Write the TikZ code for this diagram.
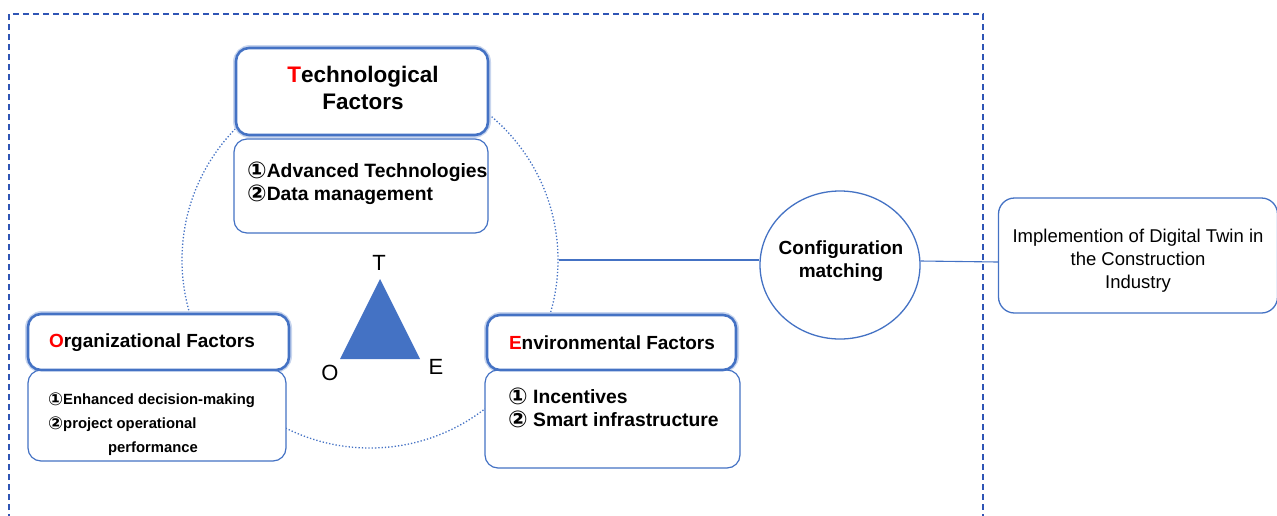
\documentclass[tikz,border=0pt]{standalone}
\usepackage{fontspec}
\setmainfont{Liberation Sans}
\newfontfamily\circfont{DejaVu Sans}
\usetikzlibrary{shapes.geometric}
\definecolor{ubl}{HTML}{4472C4}
\definecolor{frameblue}{HTML}{2F55B5}
\definecolor{halo}{HTML}{C9D6EE}
\newcommand{\cnum}[1]{\raisebox{-0.09em}{\scalebox{1.2}{\circfont #1}}}
\tikzset{
  headbox/.style={draw=ubl, line width=2.6pt, rounded corners=13pt, fill=white,
    inner sep=0pt},
  halobox/.style={draw=halo, line width=6pt, rounded corners=14pt},
  bodybox/.style={draw=ubl, line width=1.2pt, rounded corners=13pt, fill=white,
    inner sep=0pt},
  titletext/.style={align=center, inner sep=0pt, font=\bfseries},
  itemtext/.style={align=left, anchor=north west, inner sep=0pt, font=\bfseries},
  vertex/.style={font=\fontsize{22}{22}\selectfont, inner sep=0pt},
  link/.style={draw=ubl, line width=1.1pt},
}
\begin{document}
\begin{tikzpicture}[x=1pt,y=-1pt]
\useasboundingbox (0,0) rectangle (1277,515);

% outer dashed frame, open at the bottom
\draw[frameblue, line width=1.1pt, dash pattern=on 6pt off 4pt]
  (9,520) -- (9,14) -- (983,14) -- (983,520);

% dotted TOE ring behind the factor boxes
\node[circle, draw=ubl, line width=1.3pt, dotted, minimum size=376pt, inner sep=0pt]
  (toe) at (370,260) {};

% Configuration matching and outcome
\node[ellipse, draw=ubl, line width=1.3pt, fill=white, minimum width=160pt,
  minimum height=148pt, inner sep=0pt] (cfg) at (840,265) {};
\node[titletext, font=\bfseries\fontsize{19}{23}\selectfont] (cfgT) at (841,261)
  {Configuration\\matching};
\node[draw=ubl, line width=1.3pt, rounded corners=16pt, minimum width=279pt,
  minimum height=115pt, inner sep=0pt] (impl) at (1138,255.5) {};
\node[align=center, inner sep=0pt, font=\fontsize{18.5}{23}\selectfont]
  (implT) at (1138,261)
  {Implemention of Digital Twin in\\the Construction\\Industry};
\draw[link] (toe.east) -- (toe.east -| cfg.west);
\draw[link] (cfg.east |- 0,261) -- (impl.west |- 0,262);

% Technological factors
\draw[halobox] (236,48) rectangle (488,135);
\node[bodybox, minimum width=254pt, minimum height=94pt] (techB) at (361,186) {};
\node[headbox, minimum width=252pt, minimum height=87pt] (techH) at (362,91.5) {};
\node[titletext, font=\bfseries\fontsize{22.5}{27}\selectfont] (techT) at (363,88)
  {\textcolor{red}{T}echnological\\Factors};
\node[itemtext, font=\bfseries\fontsize{19.3}{23}\selectfont] (techI) at (247,162)
  {\cnum{①}Advanced Technologies\\\cnum{②}Data management};

% Organizational factors
\draw[halobox] (28,314) rectangle (289,370);
\node[bodybox, minimum width=258pt, minimum height=91pt] (orgB) at (157,415.5) {};
\node[headbox, minimum width=261pt, minimum height=56pt] (orgH) at (158.5,342) {};
\node[titletext, font=\bfseries\fontsize{19}{22}\selectfont] (orgT) at (152,343)
  {\textcolor{red}{O}rganizational Factors};
\node[itemtext, font=\bfseries\fontsize{14.8}{24}\selectfont] (orgI) at (48,392.5)
  {\cnum{①}Enhanced decision-making\\\cnum{②}project operational\\\hspace*{60pt}performance};

% Environmental factors
\draw[halobox] (487,315) rectangle (736,370);
\node[bodybox, minimum width=255pt, minimum height=98pt] (envB) at (612.5,419) {};
\node[headbox, minimum width=249pt, minimum height=55pt] (envH) at (611.5,342.5) {};
\node[titletext, font=\bfseries\fontsize{19}{22}\selectfont] (envT) at (612,343)
  {\textcolor{red}{E}nvironmental Factors};
\node[itemtext, font=\bfseries\fontsize{19.3}{23}\selectfont] (envI) at (508,388)
  {\cnum{①} Incentives\\\cnum{②} Smart infrastructure};

% TOE triangle
\fill[ubl] (380,279) -- (420,359) -- (340,359) -- cycle;
\node[vertex] (vT) at (379,263) {T};
\node[vertex] (vO) at (330,373) {O};
\node[vertex] (vE) at (436,367) {E};
\end{tikzpicture}
\end{document}
